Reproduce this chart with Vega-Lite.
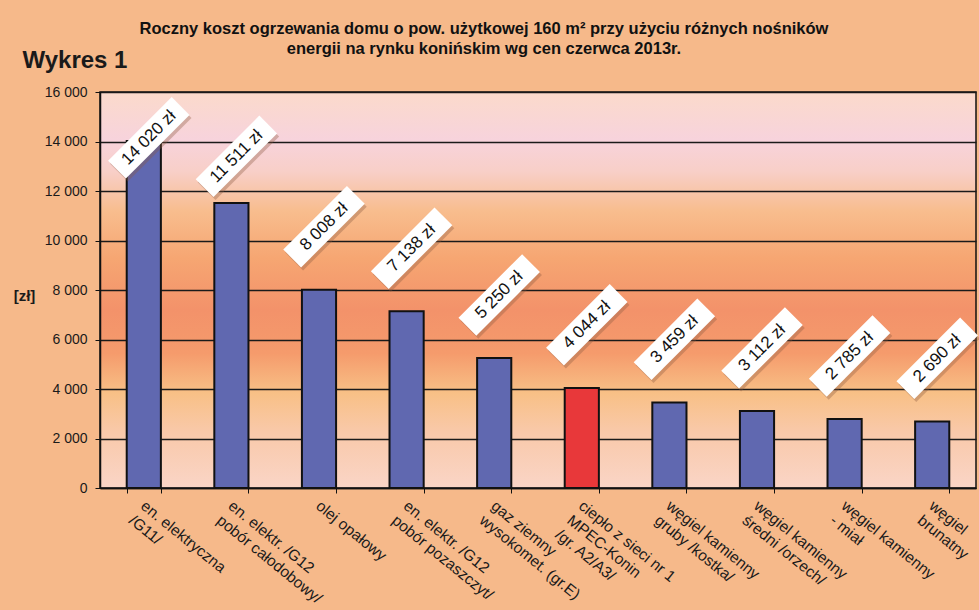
{
  "$schema": "https://vega.github.io/schema/vega-lite/v6.json",
  "width": 876,
  "height": 396,
  "autosize": {"type": "none"},
  "padding": {"left": 100, "top": 92, "right": 3, "bottom": 122},
  "background": "#f6b98a",
  "config": {
    "locale": {"number": {"decimal": ",", "thousands": " ", "grouping": [3], "currency": ["", " zł"]}},
    "font": "Liberation Sans",
    "view": {
      "stroke": "#111111",
      "strokeWidth": 1.5,
      "fill": {
        "gradient": "linear", "x1": 0, "y1": 0, "x2": 0, "y2": 1,
        "stops": [
          {"offset": 0, "color": "#fbdacb"},
          {"offset": 0.12, "color": "#f7d3dc"},
          {"offset": 0.2, "color": "#f8cfc8"},
          {"offset": 0.3, "color": "#f8bd8e"},
          {"offset": 0.42, "color": "#f6a672"},
          {"offset": 0.55, "color": "#f3926a"},
          {"offset": 0.66, "color": "#f59b6c"},
          {"offset": 0.76, "color": "#f8c086"},
          {"offset": 0.86, "color": "#f9c9aa"},
          {"offset": 1, "color": "#fad5c6"}
        ]
      }
    }
  },
  "title": {
    "text": ["Roczny koszt ogrzewania domu o pow. użytkowej 160 m² przy użyciu różnych nośników", "energii  na rynku konińskim wg cen czerwca  2013r."],
    "anchor": "middle",
    "dx": -54,
    "offset": -9,
    "font": "Liberation Sans",
    "fontSize": 16.5,
    "fontWeight": "bold",
    "lineHeight": 20,
    "color": "#111111"
  },
  "data": {
    "values": [
      {"nosnik": "en. elektryczna\n/G11/", "koszt": 14020},
      {"nosnik": "en. elektr. /G12\npobór całodobowy/", "koszt": 11511},
      {"nosnik": "olej opałowy", "koszt": 8008},
      {"nosnik": "en. elektr. /G12\npobór pozaszczyt/", "koszt": 7138},
      {"nosnik": "gaz ziemny\nwysokomet. (gr.E)", "koszt": 5250},
      {"nosnik": "ciepło z sieci nr 1\nMPEC-Konin\n/gr. A2/A3/", "koszt": 4044},
      {"nosnik": "węgiel kamienny\ngruby /kostka/", "koszt": 3459},
      {"nosnik": "węgiel kamienny\nśredni /orzech/", "koszt": 3112},
      {"nosnik": "węgiel kamienny\n- miał", "koszt": 2785},
      {"nosnik": "węgiel\nbrunatny", "koszt": 2690}
    ]
  },
  "transform": [{"calculate": "min(datum.koszt + 2550, datum.koszt > 13000 ? 14150 : 13400)", "as": "poz"}],
  "encoding": {
    "x": {
      "field": "nosnik",
      "type": "nominal",
      "sort": null,
      "scale": {"paddingInner": 0.61, "paddingOuter": 0.305},
      "axis": {
        "title": "Wykres 1",
        "titleX": -78,
        "titleY": -421,
        "titleAlign": "left",
        "titleBaseline": "alphabetic",
        "titleAngle": 0,
        "titleFont": "Liberation Sans",
        "titleFontSize": 24,
        "titleFontWeight": "bold",
        "titleColor": "#1a1a1a",
        "labelExpr": "split(datum.label, '\\n')",
        "labelAngle": 39,
        "labelAlign": "left",
        "labelBaseline": "top",
        "labelFontSize": 15.5,
        "labelLineHeight": 18.5,
        "labelColor": "#1a1a1a",
        "labelPadding": 5,
        "labelOffset": 3,
        "labelLimit": 0,
        "labelOverlap": false,
        "labelFlush": false,
        "tickSize": 5,
        "tickColor": "#111111",
        "tickBand": "extent",
        "domainColor": "#111111",
        "domainWidth": 1.5
      }
    },
    "y": {
      "field": "koszt",
      "type": "quantitative",
      "scale": {"domain": [0, 16000], "nice": false},
      "axis": {
        "title": "[zł]",
        "titleAngle": 0,
        "titleX": -76,
        "titleY": 203,
        "titleAlign": "center",
        "titleBaseline": "middle",
        "titleFontSize": 15,
        "titleFontWeight": "bold",
        "titleColor": "#1a1a1a",
        "values": [0, 2000, 4000, 6000, 8000, 10000, 12000, 14000, 16000],
        "format": ",d",
        "labelFontSize": 14,
        "labelColor": "#1a1a1a",
        "labelPadding": 8,
        "tickSize": 5,
        "tickColor": "#111111",
        "grid": true,
        "gridColor": "#1a1a1a",
        "gridWidth": 1.4,
        "domainColor": "#111111",
        "domainWidth": 1.5
      }
    }
  },
  "layer": [
    {
      "mark": {"type": "bar", "stroke": "#111111", "strokeWidth": 2},
      "encoding": {
        "fill": {
          "condition": {"test": "indexof(datum.nosnik, 'MPEC') >= 0", "value": "#e8383a"},
          "value": "#6068b0"
        }
      }
    },
    {
      "mark": {"type": "point", "shape": "M-1,-0.28L1,-0.28L1,0.28L-1,0.28Z", "size": 8100, "angle": -45, "filled": true, "fill": "#8a5a40", "opacity": 0.35, "strokeWidth": 0, "xOffset": 7, "yOffset": 3},
      "encoding": {"y": {"field": "poz", "type": "quantitative"}}
    },
    {
      "mark": {"type": "point", "shape": "M-1,-0.28L1,-0.28L1,0.28L-1,0.28Z", "size": 8100, "angle": -45, "filled": true, "fill": "#ffffff", "opacity": 1, "strokeWidth": 0, "xOffset": 5},
      "encoding": {"y": {"field": "poz", "type": "quantitative"}}
    },
    {
      "mark": {"type": "text", "angle": -45, "align": "center", "baseline": "middle", "fontSize": 17, "font": "Liberation Sans", "color": "#111111", "xOffset": 5},
      "encoding": {
        "y": {"field": "poz", "type": "quantitative"},
        "text": {"field": "koszt", "type": "quantitative", "format": "$,d"}
      }
    }
  ]
}
